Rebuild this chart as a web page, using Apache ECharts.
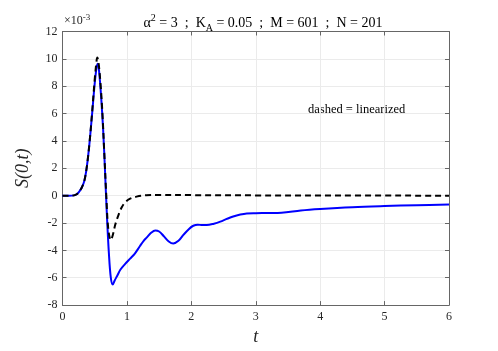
<!DOCTYPE html>
<html><head><meta charset="utf-8">
<script src="https://cdn.jsdelivr.net/npm/echarts@6/dist/echarts.min.js"></script>
<style>html,body{margin:0;padding:0;background:#fff}#c{width:498px;height:351px}</style>
</head><body><div id="c"></div>
<script>
// values in units of 1e-3
const tBlue = [0,0.1,0.18,0.22,0.26,0.30,0.34,0.38,0.42,0.46,0.50,0.53,0.55,0.57,0.60,0.63,0.66,0.69,0.72,0.75,0.78,0.81,0.85,0.90,0.97,1.05,1.12,1.20,1.26,1.31,1.38,1.44,1.50,1.57,1.65,1.72,1.80,1.88,1.96,2.03,2.10,2.17,2.24,2.35,2.45,2.55,2.65,2.76,2.86,3.0,3.2,3.4,3.7,4.0,4.5,5.0,5.5,6.0];
const sBlue = [0,0,0.02,0.1,0.3,0.6,1.1,2.2,3.9,6.0,8.2,9.4,9.65,9.0,7.2,4.9,1.8,-1.5,-4.2,-6.0,-6.5,-6.2,-5.85,-5.4,-5.0,-4.6,-4.25,-3.7,-3.3,-3.05,-2.7,-2.55,-2.62,-2.95,-3.35,-3.5,-3.3,-2.85,-2.45,-2.2,-2.12,-2.15,-2.15,-2.05,-1.9,-1.7,-1.52,-1.38,-1.3,-1.28,-1.27,-1.25,-1.08,-0.97,-0.84,-0.76,-0.70,-0.65];
const tDash = [0,0.1,0.18,0.22,0.26,0.30,0.34,0.38,0.42,0.46,0.50,0.53,0.54,0.56,0.59,0.62,0.65,0.68,0.71,0.75,0.78,0.82,0.87,0.92,0.97,1.05,1.15,1.3,1.5,2.0,3.0,4.0,6.0];
const sDash = [0,0,0.02,0.1,0.3,0.6,1.1,2.2,3.9,6.1,8.5,9.9,10.1,9.7,8.2,6.0,3.0,0.0,-2.4,-3.25,-2.9,-2.1,-1.4,-0.85,-0.5,-0.22,-0.07,0.03,0.05,0.04,0.02,0.01,0];
const xTicks = [0,1,2,3,4,5,6];
const yTicks = [-8,-6,-4,-2,0,2,4,6,8,10,12];

const chart = echarts.init(document.getElementById('c'));
const font = 'Liberation Serif, Times New Roman, serif';
const axCol = '#666';
const base = {
  axisLine:{show:true,onZero:false,lineStyle:{color:axCol,width:1}},
  axisTick:{show:true,inside:true,length:4,lineStyle:{color:axCol}},
  splitLine:{show:false},
  axisLabel:{show:false}
};
chart.setOption({
  animation:false,
  title:{
    text:'{n|α}{s|2}{n| = 3  ;  K}{b|A}{n| = 0.05  ;  M = 601  ;  N = 201}',
    left:258, top:8, textAlign:'center',
    textStyle:{fontWeight:'normal',rich:{
      n:{fontFamily:font,fontSize:14,fontWeight:'normal',color:'#000'},
      s:{fontFamily:font,fontSize:10,fontWeight:'normal',color:'#000',verticalAlign:'top',padding:[0,0,8,0]},
      b:{fontFamily:font,fontSize:10,fontWeight:'normal',color:'#000',verticalAlign:'bottom',padding:[10,0,0,0]}
    }}
  },
  grid:{left:62.5,right:49,top:31.5,bottom:34},
  xAxis:[
    {type:'value',min:0,max:6,interval:1,position:'bottom',
     axisLine:{show:true,onZero:false,lineStyle:{color:axCol}},
     axisTick:{show:true,inside:true,length:4,lineStyle:{color:axCol}},
     splitLine:{show:true,lineStyle:{color:'#ebebeb',width:1}},
     axisLabel:{show:true,color:'#262626',fontFamily:font,fontSize:12,margin:6,
       formatter:v=>xTicks.includes(v)?String(v):''},
     name:'t',nameLocation:'middle',nameGap:21,
     nameTextStyle:{fontFamily:font,fontStyle:'italic',fontSize:18,color:'#262626'}},
    Object.assign({type:'value',min:0,max:6,interval:1,position:'top'},base)
  ],
  yAxis:[
    {type:'value',min:-8,max:12,interval:2,position:'left',
     axisLine:{show:true,onZero:false,lineStyle:{color:axCol}},
     axisTick:{show:true,inside:true,length:4,lineStyle:{color:axCol}},
     splitLine:{show:true,lineStyle:{color:'#ebebeb',width:1}},
     axisLabel:{show:true,color:'#262626',fontFamily:font,fontSize:12,margin:5,
       formatter:v=>yTicks.includes(v)?String(v):''},
     name:'S(0,t)',nameLocation:'middle',nameGap:30,nameRotate:90,
     nameTextStyle:{fontFamily:font,fontStyle:'italic',fontSize:18,color:'#262626'}},
    Object.assign({type:'value',min:-8,max:12,interval:2,position:'right'},base)
  ],
  graphic:[
    {type:'text',left:64,top:13,style:{text:'{a|×10}{e|-3}',rich:{
      a:{fontFamily:font,fontSize:12,fill:'#262626'},
      e:{fontFamily:font,fontSize:9,fill:'#262626',verticalAlign:'top',padding:[0,0,6,0]}}}},
    {type:'text',left:308,top:103,style:{text:'dashed = linearized',fontFamily:font,fontSize:12.5,fill:'#000'}}
  ],
  series:[
    {type:'line',data:tBlue.map((t,i)=>[t,sBlue[i]]),smooth:0.35,showSymbol:false,
     lineStyle:{color:'#0000ff',width:2},z:3},
    {type:'line',data:tDash.map((t,i)=>[t,sDash[i]]),smooth:0.35,showSymbol:false,
     lineStyle:{color:'#000',width:2,type:[6,4]},z:4}
  ]
});
</script></body></html>
